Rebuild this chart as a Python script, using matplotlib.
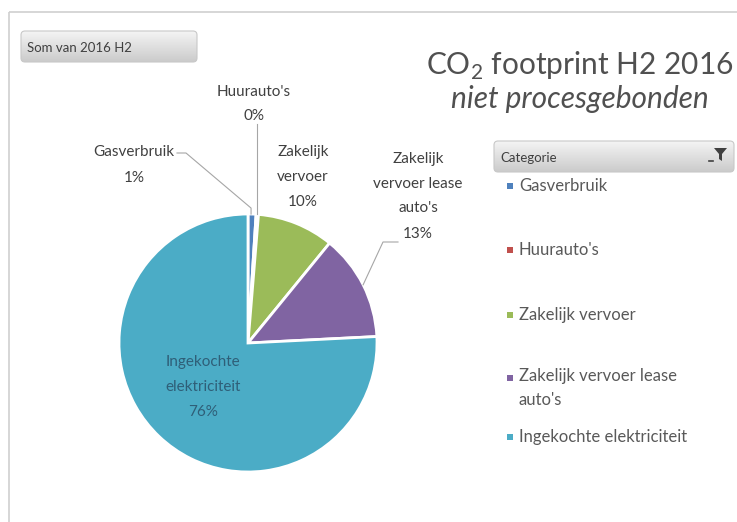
import matplotlib
matplotlib.use("Agg")
import matplotlib.pyplot as plt
import numpy as np
from matplotlib.patches import FancyBboxPatch, Rectangle, Polygon
from matplotlib.colors import LinearSegmentedColormap

plt.rcParams['font.family'] = ['Lato', 'DejaVu Sans']
plt.rcParams['mathtext.fontset'] = 'custom'
plt.rcParams['mathtext.rm'] = 'Lato'

# data (share of CO2 footprint, %)
categories = ["Gasverbruik", "Huurauto's", "Zakelijk vervoer",
              "Zakelijk vervoer lease auto's", "Ingekochte elektriciteit"]
values = [1.0, 0.3, 9.6, 13.3, 75.8]
colors = ["#4F81BD", "#C0504D", "#9BBB59", "#8064A2", "#4BACC6"]
legend_labels = ["Gasverbruik", "Huurauto's", "Zakelijk vervoer",
                 "Zakelijk vervoer lease\nauto's", "Ingekochte elektriciteit"]
slice_labels = ["Gasverbruik", "Huurauto's", "Zakelijk\nvervoer",
                "Zakelijk\nvervoer lease\nauto's", "Ingekochte\nelektriciteit"]

W, H = 737, 522
fig = plt.figure(figsize=(W / 100, H / 100), dpi=100)

# pie
cx, cy, r = 248, 343, 129
pie_ax = fig.add_axes([(cx - r) / W, (H - cy - r) / H, 2 * r / W, 2 * r / H])
wedges, _ = pie_ax.pie(values, colors=colors, startangle=90, counterclock=False, radius=1,
                       wedgeprops=dict(edgecolor='white', linewidth=2))
pie_ax.set_xlim(-1, 1)
pie_ax.set_ylim(-1, 1)
pie_ax.set_aspect('equal')

# overlay axes in image pixel coordinates, drawn on top of the pie
bg = fig.add_axes([0, 0, 1, 1])
bg.set_xlim(0, W)
bg.set_ylim(H, 0)
bg.axis('off')
bg.set_zorder(5)

# chart area border
bg.add_patch(Rectangle((9, 12), W + 20, H + 20, fill=False, ec="#d0d0d0", lw=1.2))


def button(x, y, w, h, text):
    box = FancyBboxPatch((x, y), w, h, boxstyle="round,pad=0,rounding_size=4",
                         fc="none", ec="#c8c8c8", lw=0.8, zorder=3)
    bg.add_patch(box)
    grad = np.linspace(0, 1, 50).reshape(-1, 1)
    cmap = LinearSegmentedColormap.from_list("g", ["#f4f4f4", "#cbcbcb"])
    im = bg.imshow(grad, cmap=cmap, extent=(x, x + w, y + h, y), aspect='auto', zorder=2)
    im.set_clip_path(box)
    bg.text(x + 6, y + h / 2 + 1, text, fontsize=9.5, color="#404040", va='center', ha='left', zorder=4)


button(21, 31, 176, 31, "Som van 2016 H2")
button(494, 141, 240, 31, "Categorie")
# filter icon
bg.add_patch(Polygon([[714, 148], [727, 148], [722, 154], [722, 161], [719, 159], [719, 154]],
                     closed=True, fc="#404040", ec="none", zorder=5))
bg.plot([709, 713], [161, 161], color="#404040", lw=1.2, zorder=5)

# title
bg.text(580, 66, "CO$_2$ footprint H2 2016", fontsize=21.5, color="#505050", ha='center', va='center')
bg.text(580, 99, "niet procesgebonden", fontsize=21.5, color="#505050", ha='center', va='center',
        style='italic')

total = sum(values)
pcts = ["%d%%" % round(v / total * 100) for v in values]


def edge_point(w):
    ang = np.deg2rad((w.theta1 + w.theta2) / 2)
    p = pie_ax.transData.transform((np.cos(ang), np.sin(ang)))
    return bg.transData.inverted().transform(p)


lab_col = "#404040"
fs = 11
ls = 2.0
# Gasverbruik
bg.text(134, 165, slice_labels[0] + "\n" + pcts[0], fontsize=fs, color=lab_col,
        ha='center', va='center', linespacing=ls)
ex, ey = edge_point(wedges[0])
bg.plot([177, 186, ex - 1, ex - 1], [153, 153, ey - 6, ey], color="#a6a6a6", lw=0.8)
# Huurauto's
bg.text(254, 104, slice_labels[1] + "\n" + pcts[1], fontsize=fs, color=lab_col,
        ha='center', va='center', linespacing=ls)
ex, ey = edge_point(wedges[1])
bg.plot([ex, ex], [124, ey], color="#a6a6a6", lw=0.8)
# Zakelijk vervoer
bg.text(303, 177, slice_labels[2] + "\n" + pcts[2], fontsize=fs, color=lab_col,
        ha='center', va='center', linespacing=ls)
# lease auto's
bg.text(418, 196, slice_labels[3] + "\n" + pcts[3], fontsize=fs, color=lab_col,
        ha='center', va='center', linespacing=ls)
ex, ey = edge_point(wedges[3])
bg.plot([398, 383, ex], [242, 242, ey], color="#a6a6a6", lw=0.8)
# Ingekochte elektriciteit (inside)
bg.text(203, 387, slice_labels[4] + "\n" + pcts[4], fontsize=fs, color="#2f5f78",
        ha='center', va='center', linespacing=ls)

# legend
leg_y = [186, 250, 315, 378, 437]
for lab, col, y in zip(legend_labels, colors, leg_y):
    bg.add_patch(Rectangle((507, y - 3), 6, 6, fc=col, ec='none'))
    if "\n" in lab:
        bg.text(519, y - 10, lab, fontsize=12, color="#595959", ha='left', va='top',
                linespacing=1.65)
    else:
        bg.text(519, y, lab, fontsize=12, color="#595959", ha='left', va='center')

fig.savefig("out.png", dpi=100)
